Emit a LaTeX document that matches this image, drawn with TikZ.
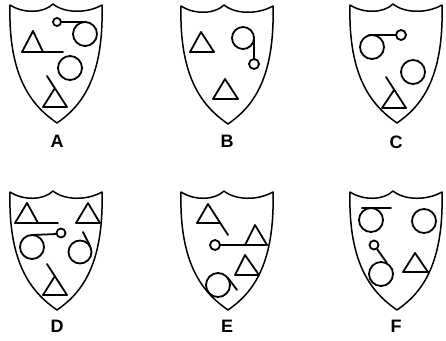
\documentclass[tikz,border=0pt]{standalone}
\usepackage{fontspec}
\setmainfont{Liberation Sans}
\begin{document}
\begin{tikzpicture}[x=1pt,y=-1pt,
  ink/.style={line width=1.8pt,line join=round,line cap=round},
  rim/.style={line width=1.5pt,line join=round},
  lbl/.style={font=\fontsize{18}{18}\selectfont\bfseries,inner sep=0pt}]
\useasboundingbox (0,0) rectangle (446,340);
\newcommand{\shieldat}[2]{%
  \draw[rim] ({#1-46},{#2}) .. controls ({#1-32},{#2+9}) and ({#1-12},{#2+8}) .. ({#1-3},{#2-1})
    .. controls ({#1+8},{#2+8}) and ({#1+30},{#2+9}) .. ({#1+46},{#2})
    .. controls ({#1+48},{#2+75}) and ({#1+24},{#2+102}) .. ({#1+1},{#2+118})
    .. controls ({#1-22},{#2+102}) and ({#1-48},{#2+75}) .. cycle;}
% shields
\shieldat{56}{5}
\shieldat{227}{6}
\shieldat{396}{5}
\shieldat{56}{192}
\shieldat{227}{192}
\shieldat{396}{192}
% labels
\node[lbl] (la) at (57,141) {A};
\node[lbl] (lb) at (227,141) {B};
\node[lbl] (lc) at (396,142) {C};
\node[lbl] (ld) at (57,326) {D};
\node[lbl] (le) at (227,326) {E};
\node[lbl] (lf) at (396,326) {F};
% ---- A
\draw[ink] (57,22) circle (4);
\draw[ink] (61,22) -- (86,22);
\draw[ink] (85,34) circle (12);
\draw[ink] (33,31) -- (22,52) -- (63,52);
\draw[ink] (43,52) -- (33,31);
\draw[ink] (70,68) circle (12);
\draw[ink] (47,76) -- (67,107) -- (43,107) -- (55,88);
% ---- B
\draw[ink] (201,32) -- (190,52) -- (214,52) -- cycle;
\draw[ink] (243,38) circle (11);
\draw[ink] (254,37) -- (254,59);
\draw[ink] (254,64) circle (5);
\draw[ink] (225,79) -- (213,99) -- (238,99) -- cycle;
% ---- C
\draw[ink] (372,47) circle (12);
\draw[ink] (369,35) -- (396,35);
\draw[ink] (401,35) circle (5);
\draw[ink] (413,72) circle (12);
\draw[ink] (386,77) -- (406,108) -- (382,108) -- (394,90);
% ---- D
\draw[ink] (27,203) -- (15,223) -- (58,223);
\draw[ink] (38,223) -- (27,203);
\draw[ink] (88,203) -- (76,223) -- (100,223) -- cycle;
\draw[ink] (32,247) circle (12);
\draw[ink] (32,235) -- (57,234);
\draw[ink] (61,233) circle (4.5);
\draw[ink] (80,252) circle (11.5);
\draw[ink] (83,232) -- (90,246);
\draw[ink] (47,264) -- (67,295) -- (43,295) -- (55,276);
% ---- E
\draw[ink] (208,204) -- (197,223) -- (220,223);
\draw[ink] (228,235) -- (208,204);
\draw[ink] (215,245) circle (5);
\draw[ink] (220,245) -- (245,245);
\draw[ink] (255,225) -- (245,245) -- (267,245) -- cycle;
\draw[ink] (245,255) -- (235,275) -- (259,275) -- cycle;
\draw[ink] (218,285) circle (12);
\draw[ink] (228,278) -- (237,290);
% ---- F
\draw[ink] (371,220) circle (12);
\draw[ink] (362,208) -- (391,208);
\draw[ink] (424,221) circle (12);
\draw[ink] (374,245) circle (4.5);
\draw[ink] (377,249) -- (387,263);
\draw[ink] (381,274) circle (12);
\draw[ink] (415,253) -- (403,272) -- (428,272) -- cycle;
\end{tikzpicture}
\end{document}
